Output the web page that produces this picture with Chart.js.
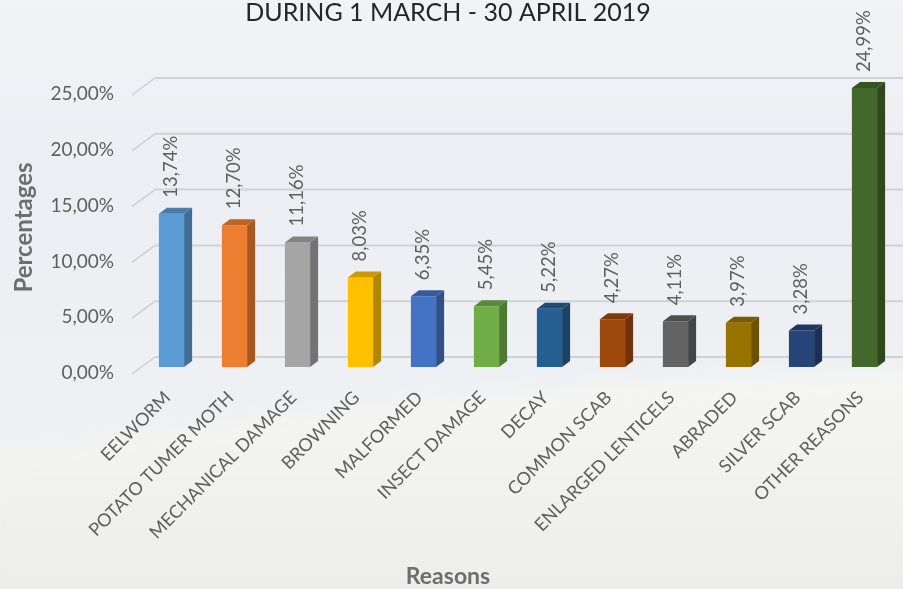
<!DOCTYPE html>
<html>
<head>
<meta charset="utf-8">
<script src="https://cdn.jsdelivr.net/npm/chart.js@4.4.1/dist/chart.umd.min.js"></script>
<style>
  html, body { margin: 0; padding: 0; background: #eef0f4; }
  canvas { display: block; }
</style>
</head>
<body>
<canvas id="reasonsChart" width="903" height="589"></canvas>
<script>
// chart data
const reasons = ['EELWORM', 'POTATO TUMER MOTH', 'MECHANICAL DAMAGE', 'BROWNING', 'MALFORMED',
  'INSECT DAMAGE', 'DECAY', 'COMMON SCAB', 'ENLARGED LENTICELS', 'ABRADED', 'SILVER SCAB', 'OTHER REASONS'];
const percentages = [13.74, 12.70, 11.16, 8.03, 6.35, 5.45, 5.22, 4.27, 4.11, 3.97, 3.28, 24.99];
const barColors = ['#5b9bd5', '#ed7d31', '#a5a5a5', '#ffc000', '#4472c4', '#70ad47',
  '#255e91', '#9e480e', '#636363', '#997300', '#264478', '#43682b'];

const FONT = 'Lato, "Open Sans", sans-serif';

function fmt(v) {
    return v.toFixed(2).replace('.', ',') + '%';
}

function shade(hex, f) {
    const n = parseInt(hex.slice(1), 16);
    const r = Math.round(((n >> 16) & 255) * f);
    const g = Math.round(((n >> 8) & 255) * f);
    const b = Math.round((n & 255) * f);
    return `rgb(${r},${g},${b})`;
}

// sky + field backdrop
const backdrop = {
    id: 'backdrop',
    beforeDraw(chart) {
        const ctx = chart.ctx;
        const w = chart.width, h = chart.height;
        ctx.save();
        let sky = ctx.createLinearGradient(0, 0, 0, h);
        sky.addColorStop(0, '#f1f3f7');
        sky.addColorStop(0.3, '#eceef3');
        sky.addColorStop(0.65, '#eef0f4');
        sky.addColorStop(1, '#f0f1f1');
        ctx.fillStyle = sky;
        ctx.fillRect(0, 0, w, h);
        // soft hill
        ctx.filter = 'blur(10px)';
        ctx.beginPath();
        ctx.moveTo(-20, 455);
        ctx.quadraticCurveTo(420, 385, w + 20, 370);
        ctx.lineTo(w + 20, h + 20);
        ctx.lineTo(-20, h + 20);
        ctx.closePath();
        let field = ctx.createLinearGradient(0, 380, 0, h);
        field.addColorStop(0, '#f5f5f2');
        field.addColorStop(1, '#edede9');
        ctx.fillStyle = field;
        ctx.fill();
        ctx.restore();
    }
};

// back wall gridlines with a little depth
const wallGrid = {
    id: 'wallGrid',
    beforeDatasetsDraw(chart) {
        const ctx = chart.ctx;
        const y = chart.scales.y;
        ctx.save();
        y.ticks.forEach(t => {
            const yb = y.getPixelForValue(t.value) - 10;
            ctx.strokeStyle = '#cfd2d7';
            ctx.lineWidth = 2;
            ctx.beginPath();
            ctx.moveTo(155, yb);
            ctx.lineTo(chart.width, yb);
            ctx.stroke();
            ctx.strokeStyle = '#cdcfd3';
            ctx.lineWidth = 1.5;
            ctx.beginPath();
            ctx.moveTo(132, yb + 17);
            ctx.lineTo(155, yb);
            ctx.stroke();
        });
        ctx.restore();
    }
};

// side/top faces and vertical value labels
const bars3d = {
    id: 'bars3d',
    afterDatasetsDraw(chart) {
        const ctx = chart.ctx;
        const meta = chart.getDatasetMeta(0);
        const dx = 8, dy = -6;
        ctx.save();
        meta.data.forEach((bar, i) => {
            const p = bar.getProps(['x', 'y', 'base', 'width'], true);
            const l = p.x - p.width / 2, r = p.x + p.width / 2;
            ctx.fillStyle = shade(barColors[i], 0.7);
            ctx.beginPath();
            ctx.moveTo(r, p.y);
            ctx.lineTo(r + dx, p.y + dy);
            ctx.lineTo(r + dx, p.base + dy);
            ctx.lineTo(r, p.base);
            ctx.closePath();
            ctx.fill();
            ctx.fillStyle = shade(barColors[i], 0.8);
            ctx.beginPath();
            ctx.moveTo(l, p.y);
            ctx.lineTo(l + dx, p.y + dy);
            ctx.lineTo(r + dx, p.y + dy);
            ctx.lineTo(r, p.y);
            ctx.closePath();
            ctx.fill();

            ctx.save();
            ctx.translate(p.x, p.y - 16);
            ctx.rotate(-Math.PI / 2);
            ctx.font = '18.5px ' + FONT;
            ctx.fillStyle = '#5f5f5f';
            ctx.textAlign = 'left';
            ctx.textBaseline = 'middle';
            ctx.fillText(fmt(percentages[i]), 0, 0);
            ctx.restore();
        });
        ctx.restore();
    }
};

new Chart(document.getElementById('reasonsChart'), {
    type: 'bar',
    data: {
        labels: reasons,
        datasets: [{
            data: percentages,
            backgroundColor: barColors,
            borderWidth: 0,
            barPercentage: 0.4,
            categoryPercentage: 1
        }]
    },
    options: {
        responsive: false,
        animation: false,
        layout: { padding: { left: 0, right: 7, top: 0, bottom: 0 } },
        plugins: {
            legend: { display: false },
            tooltip: { enabled: false },
            title: {
                display: true,
                text: 'DURING 1 MARCH - 30 APRIL 2019',
                color: '#262626',
                font: { family: FONT, size: 25, weight: 'normal', lineHeight: 1 },
                padding: { top: 0, bottom: 63 }
            },
            // x axis name sits centred on the whole picture, not on the plot
            subtitle: {
                display: true,
                position: 'bottom',
                text: 'Reasons',
                color: '#6e6e6e',
                font: { family: FONT, size: 23, weight: 'bold', lineHeight: 1 },
                padding: { top: 0, bottom: 1 }
            }
        },
        scales: {
            x: {
                grid: { display: false, drawTicks: false },
                border: { display: false },
                ticks: {
                    color: '#5f5f5f',
                    font: { family: FONT, size: 18 },
                    minRotation: 45,
                    maxRotation: 45,
                    autoSkip: false,
                    padding: 20,
                    labelOffset: -4
                },
                afterFit(scale) { scale.height = 198; }
            },
            y: {
                min: 0,
                max: 25,
                grid: { display: false, drawTicks: false },
                border: { display: false },
                ticks: {
                    stepSize: 5,
                    color: '#5f5f5f',
                    font: { family: FONT, size: 19 },
                    padding: 26,
                    labelOffset: 6,
                    callback: v => fmt(v)
                },
                title: {
                    display: true,
                    text: 'Percentages',
                    color: '#6e6e6e',
                    font: { family: FONT, size: 24, weight: 'bold' },
                    padding: { top: 10, bottom: 0 }
                },
                afterFit(scale) { scale.width = 140; }
            }
        }
    },
    plugins: [backdrop, wallGrid, bars3d]
});
</script>
</body>
</html>
